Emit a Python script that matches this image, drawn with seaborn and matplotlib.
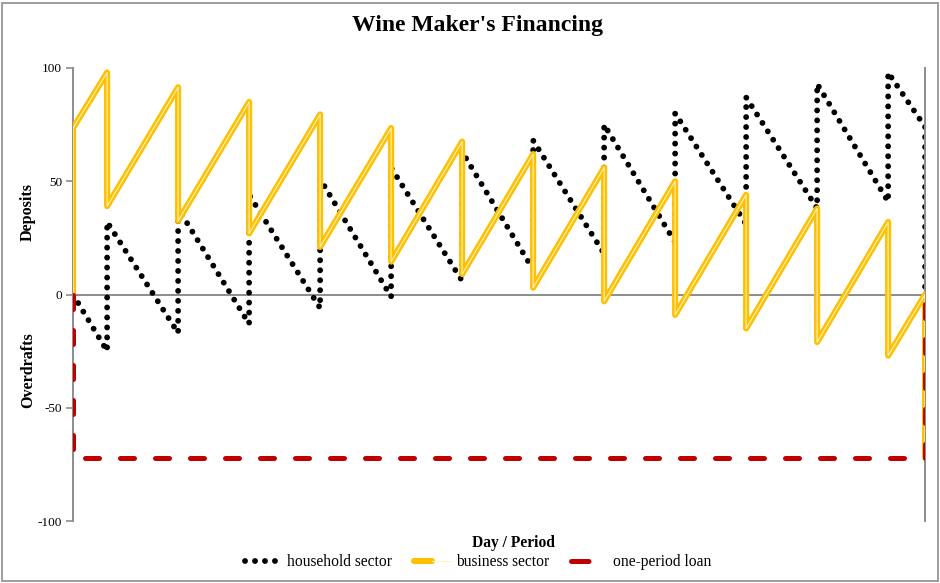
import matplotlib
matplotlib.use("Agg")
import matplotlib.pyplot as plt
import seaborn as sns
from matplotlib.lines import Line2D
from matplotlib.patches import Rectangle
from matplotlib.legend_handler import HandlerTuple

# household sector deposits / overdrafts (black dotted)
hh_x = [0, 0.48, 0.48, 1.48, 1.48, 2.48, 2.48, 3.48, 3.48, 4.48, 4.48, 5.48, 5.48,
        6.48, 6.48, 7.48, 7.48, 8.48, 8.48, 9.48, 9.48, 10.48, 10.48, 11.48, 11.48, 12, 12]
hh_y = [0, -25, 32, -17, 38, -13, 44, -6, 51, -1, 56, 6, 63,
        11, 68, 18, 75, 23, 80, 31, 87, 38, 93, 41, 98, 74, 0]

# business sector (gold)
bs_x = [0, 0, 0.48, 0.48, 1.48, 1.48, 2.48, 2.48, 3.48, 3.48, 4.48, 4.48, 5.48, 5.48,
        6.48, 6.48, 7.48, 7.48, 8.48, 8.48, 9.48, 9.48, 10.48, 10.48, 11.48, 11.48, 12, 12]
bs_y = [0, 73.5, 98, 39, 91.5, 32.5, 85, 27, 79.5, 21, 73.5, 14.5, 67.5, 9,
        62, 3, 56, -3, 50, -9, 44, -15, 38, -21, 32, -27, 0, -72]

# one-period loan (red dashed)
ln_x = [0, 0, 12, 12]
ln_y = [0, -72, -72, 0]

y_ticks = [-100, -50, 0, 50, 100]

sns.set_style("white")
plt.rcParams["font.family"] = ["Liberation Serif", "DejaVu Serif"]
plt.rcParams["text.color"] = "black"
plt.rcParams["ytick.labelcolor"] = "black"
plt.rcParams["axes.unicode_minus"] = False

fig = plt.figure(figsize=(9.4, 5.83), dpi=100)
ax = fig.add_axes([0.0777, 0.1063, 0.9064, 0.7771])

grey = "#8c8c8c"
gold = "#FFC000"
red = "#C00000"

ax.axhline(0, color=grey, lw=1.4, zorder=1)

dot_style = (0, (0.01, 1.7))
dash_style = (0, (2.8, 4.2))

sns.lineplot(x=hh_x, y=hh_y, sort=False, estimator=None, ax=ax, color="black",
             lw=4.2, linestyle=dot_style, dash_capstyle="round", zorder=2)
sns.lineplot(x=bs_x, y=bs_y, sort=False, estimator=None, ax=ax, color=gold,
             lw=4.4, solid_joinstyle="round", solid_capstyle="round", zorder=3)
sns.lineplot(x=bs_x, y=bs_y, sort=False, estimator=None, ax=ax, color="#FFF3C4",
             lw=0.8, zorder=3.5)
sns.lineplot(x=ln_x, y=ln_y, sort=False, estimator=None, ax=ax, color=red,
             lw=3.6, linestyle=dash_style, dash_capstyle="round", zorder=4)

ax.set_xlim(0, 12)
ax.set_ylim(-100, 100)
ax.set_xticks([])
ax.set_yticks(y_ticks)
ax.tick_params(axis="y", direction="out", length=5, width=1.2, color=grey,
               labelsize=9.5, labelcolor="black", pad=3, left=True)
for side in ["top", "bottom"]:
    ax.spines[side].set_visible(False)
for side in ["left", "right"]:
    ax.spines[side].set_color(grey)
    ax.spines[side].set_linewidth(1.4)

fig.text(0.508, 0.956, "Wine Maker's Financing", ha="center", va="center",
         fontsize=17, fontweight="bold")
fig.text(0.030, 1 - 212 / 583, "Deposits", rotation=90, ha="center", va="center",
         fontsize=11.6, fontweight="bold")
fig.text(0.030, 1 - 370 / 583, "Overdrafts", rotation=90, ha="center", va="center",
         fontsize=11.6, fontweight="bold")
fig.text(513 / 940, 1 - 543 / 583, "Day / Period", ha="center", va="center",
         fontsize=11.2, fontweight="bold")

h_hh = Line2D([], [], color="black", lw=4.2, linestyle=dot_style, dash_capstyle="round")
h_bs = (Line2D([], [], color=gold, lw=4.4, solid_capstyle="round"),
        Line2D([], [], color="#FFF3C4", lw=0.8))
h_ln = Line2D([], [], color=red, lw=3.6, linestyle=(0, (3.5, 10)), dash_capstyle="round")
fig.legend([h_hh, h_bs, h_ln], ["household sector", "business sector", "one-period loan"],
           handler_map={tuple: HandlerTuple(ndivide=None, pad=0)},
           loc="center", bbox_to_anchor=(478 / 940, 1 - 562 / 583), ncol=3,
           frameon=False, fontsize=11.2, handlelength=2.4, handletextpad=0.3,
           columnspacing=1.4)

fig.add_artist(Rectangle((1.5 / 940, 2 / 583), 936 / 940, 578 / 583,
                         transform=fig.transFigure, fill=False,
                         edgecolor="#8c8c8c", lw=1.2))

fig.savefig("out.png", dpi=100)
